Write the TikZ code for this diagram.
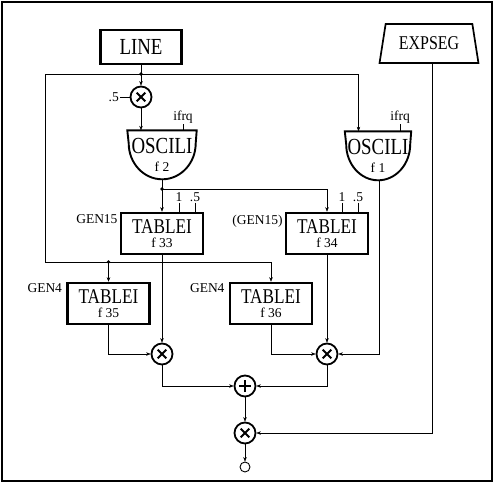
\documentclass[tikz,border=0pt]{standalone}
\usepackage{fontspec}
\setmainfont{Liberation Serif}
\newfontfamily\condfont{Liberation Serif}[FakeStretch=0.82]
\usetikzlibrary{arrows.meta,shapes.geometric}
\newcommand{\bigtxt}[1][21]{\condfont\fontsize{#1}{13}\selectfont}
\newcommand{\smalltxt}{\rmfamily\fontsize{13.5}{14}\selectfont}

\tikzset{
  >={Stealth[length=4.5pt,width=3.5pt]},
  lbl/.style={font=\smalltxt,inner sep=1pt},
  unitbox/.style={draw,line width=2.6pt,minimum width=82pt,minimum height=41pt,
    inner sep=0pt,align=center,font=\bigtxt},
  oscbox/.style={minimum width=69pt,minimum height=49pt,inner sep=0pt,align=center,font={\bigtxt[23]}},
  oscline/.style={line width=1.9pt},
  opsym/.style={circle,draw,line width=1.8pt,minimum size=21pt,inner sep=0pt},
  mulop/.style={opsym,path picture={
    \draw[line width=2pt]
      ([shift={(-4.3pt,-4.3pt)}]path picture bounding box.center) --
      ([shift={(4.3pt,4.3pt)}]path picture bounding box.center)
      ([shift={(-4.3pt,4.3pt)}]path picture bounding box.center) --
      ([shift={(4.3pt,-4.3pt)}]path picture bounding box.center);}},
  addop/.style={opsym,path picture={
    \draw[line width=2pt]
      ([xshift=-5.8pt]path picture bounding box.center) --
      ([xshift=5.8pt]path picture bounding box.center)
      ([yshift=-5.8pt]path picture bounding box.center) --
      ([yshift=5.8pt]path picture bounding box.center);}},
  jdot/.style={circle,fill,inner sep=0pt,minimum size=3.6pt}
}

\begin{document}
\begin{tikzpicture}[x=1pt,y=-1pt]
  \useasboundingbox (0,0) rectangle (496,483);
  \draw[line width=1.2pt] (2,2) rectangle (492,481);

  % control signals
  \node[draw,line width=2.6pt,minimum width=81pt,minimum height=34pt,inner sep=0pt,font={\bigtxt[23]}] (line) at (141,47) {LINE};
  \node[trapezium,draw,line width=1.7pt,trapezium left angle=72,trapezium right angle=72,
    trapezium stretches=true,minimum width=99pt,minimum height=39pt,inner sep=0pt,font={\bigtxt[19.5]}] (expseg) at (429,43.5) {EXPSEG};
  \node[mulop] (mulA) at (141,97) {};
  \node[lbl,anchor=east] (halfA) at (120,97) {.5};

  % oscillators
  \node[oscbox] (osc2) at (162,155) {OSCILI\\[5pt]{\smalltxt f 2}};
  \draw[oscline] (osc2.north west) -- (osc2.north east) -- ++(-1,13)
    arc[start angle=0,end angle=180,x radius=33.5,y radius=36] -- cycle;
  \node[oscbox,minimum width=66pt] (osc1) at (378,156) {OSCILI\\[5pt]{\smalltxt f 1}};
  \draw[oscline] (osc1.north west) -- (osc1.north east) -- ++(-1,13)
    arc[start angle=0,end angle=180,x radius=32,y radius=36] -- cycle;
  \node[lbl] (ifrq2) at (183,117) {ifrq};
  \node[lbl] (ifrq1) at (400,117) {ifrq};

  % tables
  \node[unitbox] (tab33) at (162,233.5) {TABLEI\\[1pt]{\smalltxt f 33}};
  \node[unitbox] (tab34) at (327,233.5) {TABLEI\\[1pt]{\smalltxt f 34}};
  \node[unitbox] (tab35) at (108.5,303.5) {TABLEI\\[1pt]{\smalltxt f 35}};
  \node[unitbox] (tab36) at (271,303.5) {TABLEI\\[1pt]{\smalltxt f 36}};
  \node[lbl,anchor=north east] (gen33) at ([xshift=-1pt,yshift=-2pt]tab33.north west) {GEN15};
  \node[lbl,anchor=north east] (gen34) at ([xshift=-1pt,yshift=-2pt]tab34.north west) {(GEN15)};
  \node[lbl,anchor=north east] (gen35) at ([xshift=-3pt,yshift=-1pt]tab35.north west) {GEN4};
  \node[lbl,anchor=north east] (gen36) at ([xshift=-3pt,yshift=-1pt]tab36.north west) {GEN4};
  \node[lbl] (one33) at (179,197) {1};
  \node[lbl] (half33) at (195,197) {.5};
  \node[lbl] (one34) at (342,197) {1};
  \node[lbl] (half34) at (358,197) {.5};

  % mixing
  \node[mulop] (mulB) at (162,354) {};
  \node[mulop] (mulC) at (327,354) {};
  \node[addop] (sumA) at (245,386) {};
  \node[mulop] (mulD) at (245,433) {};
  \node[circle,draw,line width=0.9pt,minimum size=10pt,inner sep=0pt] (outc) at (245,467) {};

  \coordinate (j1) at (141,74);
  \coordinate (j2) at (162,189);
  \coordinate (j3) at (108.5,262);

  \draw[->] (line) -- (mulA);
  \draw[->] (j1) -| ([xshift=-19.5pt]osc1.north);
  \draw[->] (j1) -| (45,262) -| (tab36);
  \draw[->] (j3) -- (tab35);
  \draw (halfA) -- (mulA);
  \draw[->] (mulA) -- (mulA |- osc2.north);
  \draw (ifrq2) -- (ifrq2 |- osc2.north);
  \draw (ifrq1) -- (ifrq1 |- osc1.north);
  \draw[->] (osc2.south) -- (tab33);
  \draw[->] (j2) -| (tab34);
  \draw (one33) -- (one33 |- tab33.north);
  \draw (half33) -- (half33 |- tab33.north);
  \draw (one34) -- (one34 |- tab34.north);
  \draw (half34) -- (half34 |- tab34.north);
  \draw[->] (tab33) -- (mulB);
  \draw[->] (tab35) |- (mulB);
  \draw[->] (tab34) -- (mulC);
  \draw[->] (tab36) |- (mulC);
  \draw[->] ([xshift=1.5pt]osc1.south) |- (mulC);
  \draw[->] (mulB) |- (sumA);
  \draw[->] (mulC) |- (sumA);
  \draw[->] (sumA) -- (mulD);
  \draw[->] ([xshift=3pt]expseg.south) |- (mulD);
  \draw[->] (mulD) -- (outc);
  \fill (j1) circle (1.8);
  \fill (j2) circle (1.8);
  \fill (j3) circle (1.8);
\end{tikzpicture}
\end{document}
